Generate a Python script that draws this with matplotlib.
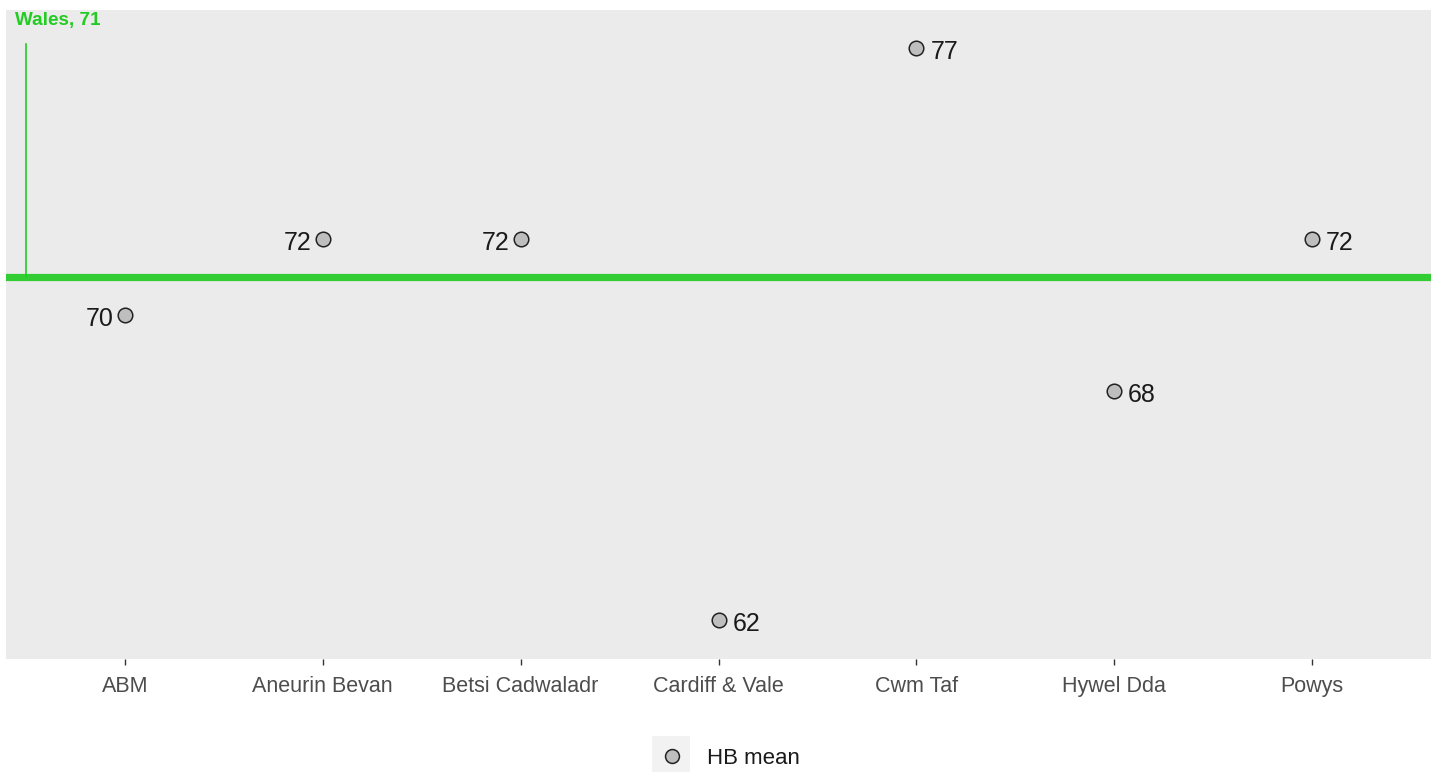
import matplotlib
matplotlib.use("Agg")
import matplotlib.pyplot as plt
from matplotlib.patches import Rectangle
from matplotlib.lines import Line2D

plt.rcParams['font.family'] = ['Liberation Sans', 'DejaVu Sans']

boards = ["ABM", "Aneurin Bevan", "Betsi Cadwaladr", "Cardiff & Vale", "Cwm Taf", "Hywel Dda", "Powys"]
hb_mean = [70, 72, 72, 62, 77, 68, 72]
label_side = ["left", "left", "left", "right", "right", "right", "right"]
wales_value = 71
wales_label = "Wales, 71"
legend_label = "HB mean"

W, H = 1437, 772
fig = plt.figure(figsize=(W/100, H/100), dpi=100)
ax = fig.add_axes([6/W, 1 - 659/H, (1431-6)/W, (659-10)/H])
ax.set_facecolor('#EBEBEB')
for s in ax.spines.values():
    s.set_visible(False)

x = list(range(len(boards)))
ax.set_xlim(-0.6, len(boards) - 0.4)
ax.set_ylim(60.98, 78.0)

ax.axhline(wales_value, color='#32CD32', lw=5.2, zorder=2)
ax.plot([-0.5, -0.5], [wales_value, 77.1], color='#22CC22', lw=1.2, zorder=2)
ax.text(-0.557, 77.73, wales_label, color='#22CC22', fontsize=13.6, fontweight='bold',
        ha='left', va='center', zorder=4)

ax.scatter(x, hb_mean, s=110, facecolor='#BEBEBE', edgecolor='#222222', linewidths=1.1,
           zorder=3)
for xi, v, side in zip(x, hb_mean, label_side):
    if side == "left":
        ax.annotate(str(v), (xi, v), xytext=(-8, -3), textcoords='offset points',
                    ha='right', va='center', fontsize=18, color='#1a1a1a')
    else:
        ax.annotate(str(v), (xi, v), xytext=(10, -3), textcoords='offset points',
                    ha='left', va='center', fontsize=18, color='#1a1a1a')

ax.set_xticks(x)
ax.set_xticklabels(boards, fontsize=15.5, color='#4D4D4D')
ax.set_yticks([])
ax.tick_params(axis='x', length=4, width=1, color='#333333', pad=8)

# legend (drawn manually in figure coordinates)
fig.patches.append(Rectangle((652/W, 1 - 772/H), 38/W, 36/H,
                             transform=fig.transFigure, facecolor='#F2F2F2',
                             edgecolor='none', zorder=0))
fig.lines.append(Line2D([672/W], [1 - 756/H], transform=fig.transFigure, marker='o',
                        markersize=10, markerfacecolor='#BEBEBE', markeredgecolor='#222222',
                        markeredgewidth=1.1, linestyle='none'))
fig.text(707/W, 1 - 758/H, legend_label, fontsize=16, color='#1a1a1a', ha='left', va='center')

fig.savefig("out.png", dpi=100, facecolor='white')
